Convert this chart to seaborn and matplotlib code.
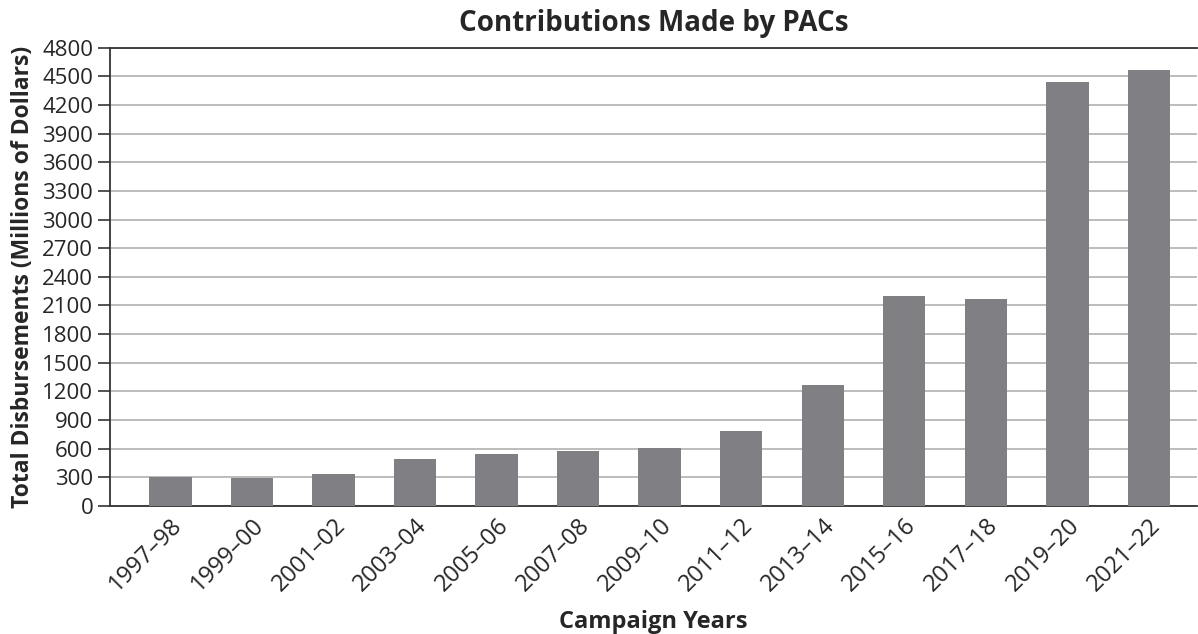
import numpy as np
import pandas as pd
import seaborn as sns
import matplotlib.pyplot as plt

# campaign cycles and PAC totals (millions of dollars)
years = ['1997–98', '1999–00', '2001–02', '2003–04', '2005–06', '2007–08', '2009–10',
         '2011–12', '2013–14', '2015–16', '2017–18', '2019–20', '2021–22']
disbursements = [300, 296, 335, 492, 544, 576, 607, 785, 1267, 2199, 2167, 4439, 4565]
y_ticks = list(range(0, 4801, 300))

df = pd.DataFrame({'year': years, 'total': disbursements})

sns.set_style('white')
plt.rcParams['font.family'] = ['Open Sans', 'DejaVu Sans']

fig = plt.figure(figsize=(11.98, 6.34), dpi=100)
ax = fig.add_axes([0.0918, 0.2019, 0.9074, 0.7229])

sns.barplot(data=df, x='year', y='total', color='#808084', saturation=1,
            width=0.52, linewidth=0, ax=ax, zorder=3)

ax.set_ylim(0, 4800)
ax.set_yticks(y_ticks)
ax.set_xlim(-0.74, 12.59)
ax.yaxis.grid(True, color='#b0b0b0', linewidth=1.2, zorder=0)
ax.set_axisbelow(True)

for side in ['left', 'bottom', 'top']:
  ax.spines[side].set_color('#333333')
  ax.spines[side].set_linewidth(1.3)
ax.spines['right'].set_visible(False)

ax.tick_params(axis='y', which='major', left=True, length=9, width=1.2,
               color='#333333', labelsize=16, pad=3)
ax.tick_params(axis='x', bottom=False, labelsize=17, pad=2)
plt.setp(ax.get_xticklabels(), rotation=45, ha='right', rotation_mode='anchor')

ax.set_title('Contributions Made by PACs', fontsize=20, fontweight='bold', pad=12)
ax.set_ylabel('Total Disbursements (Millions of Dollars)', fontsize=16.5,
              fontweight='bold', labelpad=5)
ax.set_xlabel('Campaign Years', fontsize=17, fontweight='bold', labelpad=10)

fig.savefig('out.png', dpi=100)
